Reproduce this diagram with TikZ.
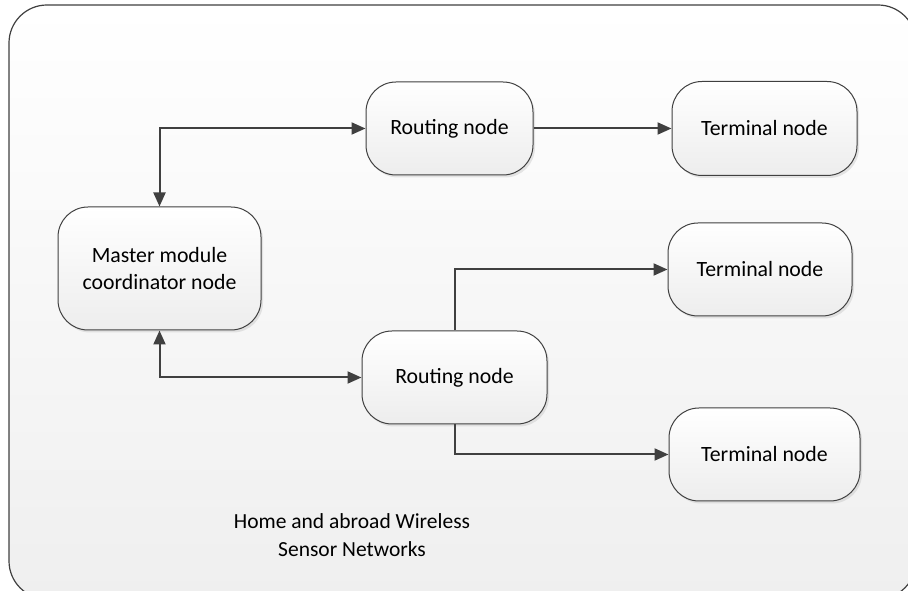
\documentclass[tikz,border=0pt]{standalone}
\usepackage{fontspec}
\setmainfont{Carlito}
\usetikzlibrary{arrows.meta,shadows}
\definecolor{edgegray}{HTML}{404040}
\definecolor{fillbottom}{HTML}{EDEDED}
\definecolor{panelbottom}{HTML}{EFEFEF}
\tikzset{
  box/.style={draw=edgegray, line width=1pt, rounded corners=30pt,
    top color=white, bottom color=fillbottom, align=center,
    inner sep=0pt, font=\fontsize{21.8}{27}\selectfont,
    drop shadow={opacity=0.18, shadow xshift=2pt, shadow yshift=-2.5pt}},
  link/.style={draw=edgegray, line width=2pt,
    -{Triangle[length=14pt,width=12pt]}},
  dlink/.style={link, {Triangle[length=14pt,width=12pt]}-{Triangle[length=14pt,width=12pt]}},
}
\begin{document}
\begin{tikzpicture}[x=1pt,y=1pt]
\useasboundingbox (0,0) rectangle (908,591);
\begin{scope}
\clip (0,0) rectangle (908,591);
% outer panel
\path[draw=edgegray, line width=1.2pt, rounded corners=38pt,
  top color=white, bottom color=panelbottom] (9,-8) rectangle (916,586);
\end{scope}
% nodes
\node[box, minimum width=203pt, minimum height=123pt] (M) at (159.5,322.5)
  {Master module\\coordinator node};
\node[box, minimum width=167pt, minimum height=93pt] (RT) at (449.5,462.5) {Routing node};
\node[box, minimum width=185pt, minimum height=94pt] (TT) at (764.5,462.5) {Terminal node};
\node[box, minimum width=185pt, minimum height=93pt] (RB) at (454.5,213.5) {Routing node};
\node[box, minimum width=184pt, minimum height=93pt] (TM) at (760,321.5) {Terminal node};
\node[box, minimum width=191pt, minimum height=93pt] (TB) at (764.5,136.5) {Terminal node};
% caption
\node[align=center, font=\fontsize{21.5}{28}\selectfont] (cap) at (352,56)
  {Home and abroad Wireless\\Sensor Networks};
% connectors
\draw[dlink] (M.north) |- (RT.west);
\draw[dlink] (M.south) |- (RB.west);
\draw[link] (RT.east) -- (TT.west);
\draw[link] (RB.north) |- (TM.west);
\draw[link] (RB.south) |- (TB.west);
\end{tikzpicture}
\end{document}
